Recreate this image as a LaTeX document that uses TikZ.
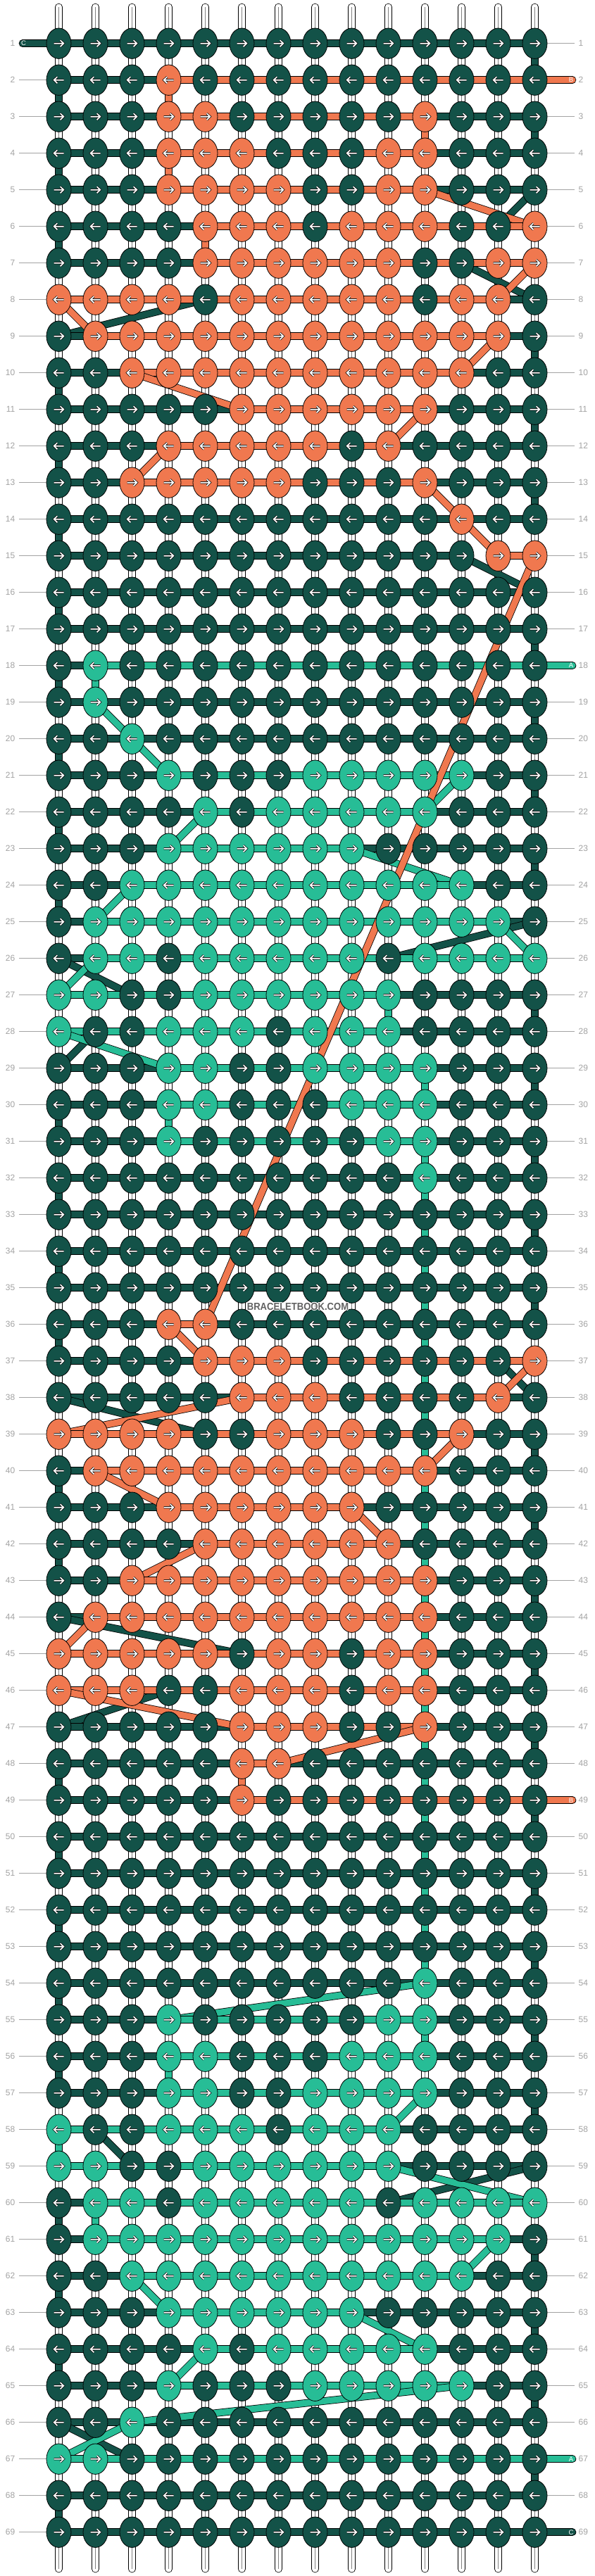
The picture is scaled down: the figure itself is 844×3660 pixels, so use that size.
\documentclass[tikz,border=0pt]{standalone}
\usepackage{fontspec}
\setmainfont{Liberation Sans}
\usetikzlibrary{shapes.geometric}
\definecolor{cG}{HTML}{135248}
\definecolor{cO}{HTML}{F0784F}
\definecolor{cT}{HTML}{27BD96}
\definecolor{labgray}{HTML}{A3A3A3}
\newcount\mykc
\def\knotrow#1#2{\def\myrow{#1}\mykc=0 \knotparse#2\relax}
\def\knotparse#1{%
  \ifx#1\relax \let\mynext\relax
  \else \advance\mykc by 1
    \edef\mynext{\noexpand\myknot{#1}{\myrow}{\the\mykc}\noexpand\knotparse}%
  \fi\mynext}
\newcommand\myknot[3]{%
  \node[knotnode=c#1] (k-#2-#3) at (p-#2-#3) {};
  \ifodd#2\relax
    \draw[arrback] ([xshift=-7pt]k-#2-#3.center) -- ++(13.8,0) ++(-4.6,-4.5) -- ++(4.6,4.5) -- ++(-4.6,4.5);
    \draw[arrfront] ([xshift=-7pt]k-#2-#3.center) -- ++(13.8,0) ++(-4.6,-4.5) -- ++(4.6,4.5) -- ++(-4.6,4.5);
  \else
    \draw[arrback] ([xshift=7pt]k-#2-#3.center) -- ++(-13.8,0) ++(4.6,-4.5) -- ++(-4.6,4.5) -- ++(4.6,4.5);
    \draw[arrfront] ([xshift=7pt]k-#2-#3.center) -- ++(-13.8,0) ++(4.6,-4.5) -- ++(-4.6,4.5) -- ++(4.6,4.5);
  \fi}
\begin{document}
\begin{tikzpicture}[x=1pt,y=-1pt,
  knotnode/.style={ellipse,draw=black,line width=0.8pt,fill=#1,minimum width=35pt,minimum height=43.4pt,inner sep=0pt,outer sep=0pt},
  strandline/.style={draw=black,line width=0.8pt,double=#1,double distance=9pt,line cap=round,line join=round},
  arrback/.style={draw=black,line width=3.1pt,line cap=butt,line join=miter},
  arrfront/.style={draw=white,line width=1.7pt,line cap=butt,line join=miter},
  labline/.style={draw=labgray,line width=1pt},
  labtext/.style={font=\fontsize{12}{12}\selectfont,text=labgray,inner sep=0pt},
  endtext/.style={font=\fontsize{9.5}{10}\selectfont,text=white,inner sep=0pt},
  wmtext/.style={font=\bfseries\fontsize{14.5}{15}\selectfont,inner sep=0pt,xscale=0.9}]
\useasboundingbox (0,0) rectangle (844,3660);
\fill[white] (0,0) rectangle (844,3660);
% coordinates
\foreach \r in {1,...,69}{
  \pgfmathsetmacro\yy{61.7+52*(\r-1)}
  \foreach \c in {1,...,14}{\coordinate (p-\r-\c) at ({83.5+52*(\c-1)},\yy);}
  \coordinate (p-\r-0) at (32,\yy);
  \coordinate (p-\r-15) at (813,\yy);
}
% base strings
\foreach \c in {1,...,14}{
  \coordinate (top-\c) at ({83.5+52*(\c-1)},10);
  \coordinate (bot-\c) at ({83.5+52*(\c-1)},3650);
  \draw[strandline=white] (top-\c) -- (bot-\c);
  \draw[gray,line width=0.5pt] (top-\c) -- (bot-\c);
}
% label lines and numbers
\foreach \r in {1,...,69}{
  \pgfmathsetmacro\yy{61.7+52*(\r-1)}
  \draw[labline] (27,\yy) -- (p-\r-1);
  \draw[labline] (p-\r-14) -- (816,\yy);
  \node[labtext,anchor=east] (ll-\r) at (21.5,\yy) {\r};
  \node[labtext,anchor=west] (lr-\r) at (821.5,\yy) {\r};
}
% string C
\foreach \p [remember=\p as \q (initially 1-0)] in {1-14,2-14,2-1,3-1,3-14,4-14,4-1,5-1,5-14,6-13,6-1,7-1,7-12,8-14,8-5,9-1,9-14,10-14,10-1,11-1,11-14,12-14,12-1,13-1,13-14,14-14,14-1,15-1,15-12,16-14,16-1,17-1,17-14,18-14,18-1,19-1,19-14,20-14,20-1,21-1,21-14,22-14,22-1,23-1,23-14,24-14,24-1,25-1,25-14,26-10,26-1,27-3,27-14,28-14,28-2,29-1,29-14,30-14,30-1,31-1,31-14,32-14,32-1,33-1,33-14,34-14,34-1,35-1,35-14,36-14,36-1,37-1,37-13,38-14,38-1,39-5,39-14,40-14,40-1,41-1,41-14,42-14,42-1,43-1,43-14,44-14,44-1,45-6,45-14,46-14,46-4,47-1,47-14,48-14,48-1,49-1,49-14,50-14,50-1,51-1,51-14,52-14,52-1,53-1,53-14,54-14,54-1,55-1,55-14,56-14,56-1,57-1,57-14,58-14,58-2,59-3,59-14,60-10,60-1,61-1,61-14,62-14,62-1,63-1,63-14,64-14,64-1,65-1,65-14,66-14,66-1,67-3,67-14,68-14,68-1,69-1,69-15}
  {\draw[strandline=cG] (p-\q) -- (p-\p);}
% string A
\foreach \p [remember=\p as \q (initially 18-15)] in {18-2,19-2,20-3,21-4,21-12,22-11,22-5,23-4,23-9,24-12,24-3,25-2,25-13,26-14,26-2,27-1,27-10,28-10,28-1,29-4,29-11,30-11,30-4,31-4,31-11,32-11,54-11,55-4,55-11,56-11,56-4,57-4,57-11,58-10,58-1,59-1,59-10,60-14,60-2,61-2,61-13,62-12,62-3,63-4,63-9,64-11,64-5,65-4,65-12,66-3,67-1,67-15}
  {\draw[strandline=cT] (p-\q) -- (p-\p);}
% string B
\foreach \p [remember=\p as \q (initially 2-15)] in {2-4,3-4,3-11,4-11,4-4,5-4,5-11,6-14,6-5,7-5,7-14,8-13,8-1,9-2,9-13,10-12,10-3,11-6,11-11,12-10,12-4,13-3,13-11,14-12,15-13,15-14,36-5,36-4,37-5,37-14,38-13,38-6,39-1,39-12,40-11,40-2,41-4,41-9,42-10,42-5,43-3,43-11,44-11,44-2,45-1,45-11,46-11,46-1,47-6,47-11,48-7,48-6,49-6,49-15}
  {\draw[strandline=cO] (p-\q) -- (p-\p);}
% A carried in column 11 lies over B there
\draw[strandline=cT] (p-42-11) -- (p-48-11);
% knots
\knotrow{1}{GGGGGGGGGGGGGG}
\knotrow{2}{GGGOGGGGGGGGGG}
\knotrow{3}{GGGOOGGGGGOGGG}
\knotrow{4}{GGGOOOGGGOOGGG}
\knotrow{5}{GGGOOOOGGOOGGG}
\knotrow{6}{GGGGOOOGOOOGGO}
\knotrow{7}{GGGGOOOOOOGGOO}
\knotrow{8}{OOOOGOOOOOGOOG}
\knotrow{9}{GOOOOOOOOOOOOG}
\knotrow{10}{GGOOOOOOOOOOGG}
\knotrow{11}{GGGGGOOOOOOGGG}
\knotrow{12}{GGGOOOOOGOGGGG}
\knotrow{13}{GGOOOOOGGGOGGG}
\knotrow{14}{GGGGGGGGGGGOGG}
\knotrow{15}{GGGGGGGGGGGGOO}
\knotrow{16}{GGGGGGGGGGGGGG}
\knotrow{17}{GGGGGGGGGGGGGG}
\knotrow{18}{GTGGGGGGGGGGGG}
\knotrow{19}{GTGGGGGGGGGGGG}
\knotrow{20}{GGTGGGGGGGGGGG}
\knotrow{21}{GGGTGGGTTTTTGG}
\knotrow{22}{GGGGTGTTTTTGGG}
\knotrow{23}{GGGTTTTTTGGGGG}
\knotrow{24}{GGTTTTTTTTTTGG}
\knotrow{25}{GTTTTTTTTTTTTG}
\knotrow{26}{GTTGTTTTTGTTTT}
\knotrow{27}{TTGGTTTTTTGGGG}
\knotrow{28}{TGGTTTGTTTGGGG}
\knotrow{29}{GGGTTGGTTTTGGG}
\knotrow{30}{GGGTTGGGTTTGGG}
\knotrow{31}{GGGTGGGGGTTGGG}
\knotrow{32}{GGGGGGGGGGTGGG}
\knotrow{33}{GGGGGGGGGGGGGG}
\knotrow{34}{GGGGGGGGGGGGGG}
\knotrow{35}{GGGGGGGGGGGGGG}
\knotrow{36}{GGGOOGGGGGGGGG}
\knotrow{37}{GGGGOOOGGGGGGO}
\knotrow{38}{GGGGGOOOGGGGOG}
\knotrow{39}{OOOOGGOOOGGOGG}
\knotrow{40}{GOOOOOOOOOOGGG}
\knotrow{41}{GGGOOOOOOGGGGG}
\knotrow{42}{GGGGOOOOOOGGGG}
\knotrow{43}{GGOOOOOOOOOGGG}
\knotrow{44}{GOOOOOOOOOOGGG}
\knotrow{45}{OOOOOGOOGOOGGG}
\knotrow{46}{OOOGGOOOGOOGGG}
\knotrow{47}{GGGGGOOOGGOGGG}
\knotrow{48}{GGGGGOOGGGGGGG}
\knotrow{49}{GGGGGOGGGGGGGG}
\knotrow{50}{GGGGGGGGGGGGGG}
\knotrow{51}{GGGGGGGGGGGGGG}
\knotrow{52}{GGGGGGGGGGGGGG}
\knotrow{53}{GGGGGGGGGGGGGG}
\knotrow{54}{GGGGGGGGGGTGGG}
\knotrow{55}{GGGTGGGGGTTGGG}
\knotrow{56}{GGGTTGGGTTTGGG}
\knotrow{57}{GGGTTGGTTTTGGG}
\knotrow{58}{TGGTTTGTTTGGGG}
\knotrow{59}{TTGGTTTTTTGGGG}
\knotrow{60}{GTTGTTTTTGTTTT}
\knotrow{61}{GTTTTTTTTTTTTG}
\knotrow{62}{GGTTTTTTTTTTGG}
\knotrow{63}{GGGTTTTTTGGGGG}
\knotrow{64}{GGGGTGTTTTTGGG}
\knotrow{65}{GGGTGGGTTTTTGG}
\knotrow{66}{GGTGGGGGGGGGGG}
\knotrow{67}{TTGGGGGGGGGGGG}
\knotrow{68}{GGGGGGGGGGGGGG}
\knotrow{69}{GGGGGGGGGGGGGG}
% string end letters
\node[endtext] (e1) at ([xshift=1.5pt]p-1-0) {C};
\node[endtext] (e2) at ([xshift=-2pt]p-2-15) {B};
\node[endtext] (e18) at ([xshift=-2pt]p-18-15) {A};
\node[endtext] (e49) at ([xshift=-2pt]p-49-15) {B};
\node[endtext] (e67) at ([xshift=-2pt]p-67-15) {A};
\node[endtext] (e69) at ([xshift=-2pt]p-69-15) {C};
% watermark
\foreach \dx/\dy [count=\i] in {-1/0,1/0,0/-1,0/1,-0.8/-0.8,0.8/0.8,-0.8/0.8,0.8/-0.8}
  {\node[wmtext,text=white] (wmh-\i) at ({423+\dx},{1856+\dy}) {BRACELETBOOK.COM};}
\node[wmtext,text=black!62] (wm) at (423,1856) {BRACELETBOOK.COM};
\end{tikzpicture}
\end{document}
